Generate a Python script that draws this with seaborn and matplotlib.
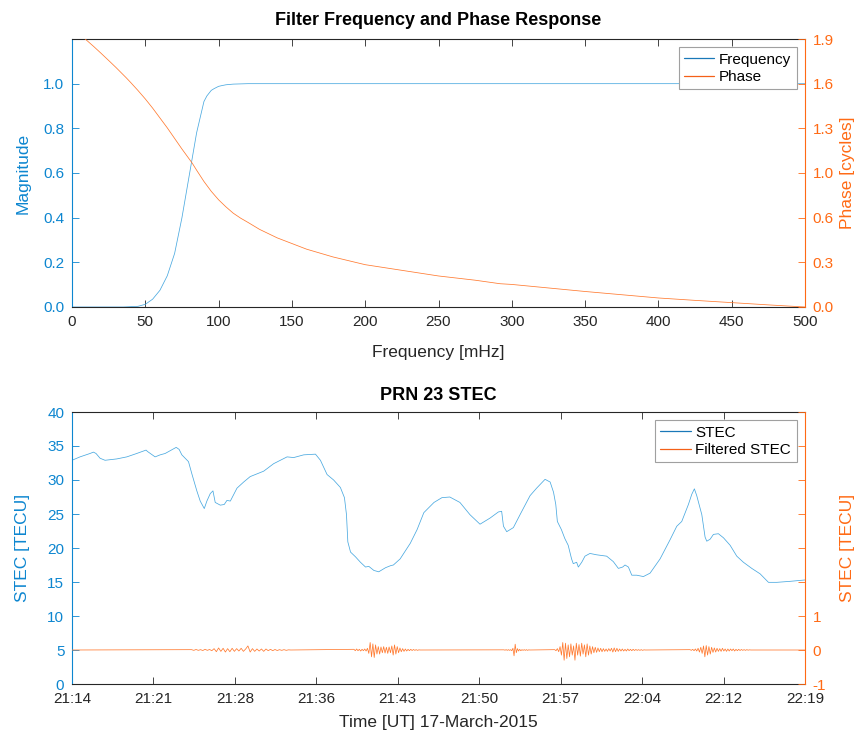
import numpy as np
import pandas as pd
import matplotlib
matplotlib.use("Agg")
import matplotlib.pyplot as plt
from matplotlib.lines import Line2D
import seaborn as sns

# ---------------- data ----------------
# Filter response (top)
mag_freq = [0, 35, 45, 50, 55, 60, 65, 70, 75, 80, 85, 90, 92, 95, 97, 100, 102, 105, 110,
            115, 120, 130, 500]
magnitude = [0, 0, 0.003, 0.012, 0.035, 0.075, 0.14, 0.24, 0.40, 0.59, 0.78, 0.92, 0.945,
             0.97, 0.978, 0.988, 0.991, 0.995, 0.998, 0.999, 1.0, 1.0, 1.0]
phase_freq = [0, 9, 15, 20, 26, 30, 37, 40, 45, 50, 55, 60, 65, 71, 75, 82, 85, 90, 95, 100,
              105, 110, 115, 120, 128, 140, 150, 160, 178, 200, 225, 250, 275, 292, 300, 325,
              350, 375, 400, 425, 450, 475, 500]
phase_cycles = [1.98, 1.9, 1.845, 1.797, 1.738, 1.698, 1.625, 1.592, 1.535, 1.475, 1.41, 1.34,
                1.27, 1.18, 1.12, 1.02, 0.97, 0.89, 0.82, 0.76, 0.71, 0.665, 0.63, 0.60, 0.55,
                0.49, 0.45, 0.41, 0.355, 0.30, 0.26, 0.22, 0.19, 0.165, 0.16, 0.135, 0.11,
                0.087, 0.064, 0.047, 0.031, 0.015, 0.0]
freq_ticks = [0, 50, 100, 150, 200, 250, 300, 350, 400, 450, 500]
mag_ticks = [0.0, 0.2, 0.4, 0.6, 0.8, 1.0]
phase_tick_labels = ["0.0", "0.3", "0.6", "1.0", "1.3", "1.6", "1.9"]

# STEC (bottom) -- time in minutes after 21:14 UT
stec_t = [0, 0.71, 1.6, 1.9, 2.13, 2.49, 2.93, 3.97, 4.86, 5.74, 6.57, 6.69, 7.37, 7.82, 8.26,
          8.7, 9.24, 9.5, 9.74, 10.33, 10.63, 11.07, 11.37, 11.73, 11.96, 12.26, 12.5, 12.7,
          13.15, 13.5, 13.74, 14.04, 14.63, 15.22, 15.8, 16.4, 17.0, 17.88, 19.07, 19.66,
          20.55, 21.59, 22.03, 22.62, 23.2, 23.8, 24.16, 24.34, 24.46, 24.7, 25.14, 25.58,
          26.03, 26.32, 26.77, 27.2, 27.8, 28.25, 28.5, 29.1, 30.0, 30.6, 31.2, 32.1, 32.8,
          33.5, 34.4, 35.29, 36.18, 37.07, 37.81, 38.1, 38.26, 38.55, 39.14, 39.73, 40.62,
          41.2, 41.95, 42.4, 42.7, 42.9, 43.04, 43.4, 43.7, 44.0, 44.3, 44.45, 44.75, 44.9,
          45.2, 45.49, 45.93, 46.52, 47.41, 48.0, 48.45, 48.83, 49.04, 49.34, 49.64, 50.08,
          50.67, 51.26, 52.15, 53.03, 53.63, 54.07, 54.66, 54.96, 55.19, 55.4, 55.85, 56.14,
          56.29, 56.59, 56.88, 57.32, 57.77, 58.36, 58.95, 59.54, 60.28, 61.02, 61.76, 62.5,
          63.7, 65.0]
stec_val = [32.9, 33.4, 33.9, 34.1, 33.9, 33.2, 32.9, 33.1, 33.4, 33.9, 34.4, 34.2, 33.4, 33.7,
            33.9, 34.3, 34.8, 34.5, 33.7, 32.7, 30.9, 28.4, 26.9, 25.8, 26.9, 28.0, 28.4, 26.7,
            26.3, 26.4, 27.0, 26.9, 28.8, 29.7, 30.5, 30.9, 31.3, 32.4, 33.4, 33.3, 33.7, 33.8,
            32.9, 30.8, 30.0, 28.9, 27.4, 24.9, 20.9, 19.4, 18.7, 17.9, 17.2, 17.3, 16.7, 16.5,
            17.1, 17.4, 17.5, 18.4, 20.7, 22.7, 25.2, 26.7, 27.4, 27.5, 26.7, 24.9, 23.5, 24.4,
            25.3, 25.4, 23.2, 22.4, 23.0, 24.9, 27.7, 28.8, 30.1, 29.7, 28.2, 26.4, 23.9, 22.7,
            21.4, 20.4, 18.4, 17.7, 17.9, 17.2, 17.9, 18.8, 19.2, 19.0, 18.8, 18.0, 17.0, 17.2,
            17.5, 17.2, 16.0, 16.0, 15.8, 16.3, 18.4, 21.2, 23.2, 23.9, 26.4, 27.9, 28.7, 27.7,
            24.9, 21.6, 21.0, 21.3, 22.0, 22.1, 21.5, 20.4, 18.8, 17.9, 17.0, 16.2, 14.95,
            14.95, 15.1, 15.3]

# Filtered STEC bursts (start minute, sample step in minutes, values in TECU)
burst_starts = [10.6, 25.0, 38.3, 42.8, 54.8]
burst_steps = [0.2, 0.12, 0.1, 0.12, 0.12]
filt_burst_a = [0.01, -0.01, 0.015, -0.01, 0.01, -0.015, 0.02, -0.01, 0.015, -0.02,
                0.04, -0.05, 0.06, -0.04, 0.05, -0.06, 0.04, -0.05, 0.05, -0.04,
                0.04, -0.03, 0.05, -0.04, 0.03, 0.12, -0.06, 0.04, -0.04, 0.03,
                -0.03, 0.03, -0.04, 0.03, -0.02, 0.02, -0.02, 0.015, -0.015, 0.01,
                -0.01, 0.01, -0.01, 0.005, 0.0]
filt_burst_b = [0.02, -0.02, 0.03, -0.02, 0.02, -0.03, 0.02, -0.02, 0.03, -0.03,
                0.05, -0.1, 0.22, -0.2, 0.18, -0.22, 0.15, -0.12, 0.1, -0.12,
                0.09, -0.08, 0.1, -0.09, 0.08, -0.1, 0.09, -0.08, 0.12, -0.15,
                0.15, -0.12, 0.1, -0.08, 0.06, -0.05, 0.04, -0.04, 0.03, -0.03,
                0.02, -0.02, 0.02, -0.015, 0.015, -0.01, 0.01, -0.01, 0.005, 0.0]
filt_burst_c = [0.005, -0.005, 0.01, -0.01, 0.01, -0.01, 0.01, -0.02, 0.05, -0.17,
                0.17, -0.08, 0.04, -0.03, 0.02, -0.02, 0.01, -0.01, 0.01, -0.01,
                0.01, -0.01, 0.005, 0.0]
filt_burst_d = [0.01, -0.02, 0.04, -0.05,
                0.1, -0.15, 0.22, -0.3, 0.2, -0.25, 0.15, -0.2, 0.18, -0.15,
                0.12, -0.3, 0.2, -0.15, 0.16, -0.18, 0.2, -0.12, 0.15, -0.2,
                0.18, -0.15, 0.12, -0.12, 0.1, -0.08, 0.08, -0.07, 0.06, -0.05,
                0.05, -0.05, 0.04, -0.04, 0.03, -0.04, 0.04, -0.03, 0.05, -0.06,
                0.06, -0.05, 0.05, -0.04, 0.03, -0.03, 0.03, -0.03, 0.02, -0.03,
                0.03, -0.02, 0.02, -0.02, 0.02, -0.015, 0.015, -0.01, 0.01, -0.01,
                0.01, -0.01, 0.005, 0.0]
filt_burst_e = [0.01, -0.01, 0.02, -0.02, 0.03, -0.03, 0.05, -0.06, 0.08, -0.1,
                0.12, -0.2, 0.13, -0.15, 0.1, -0.12, 0.08, -0.07, 0.06, -0.06,
                0.05, -0.04, 0.04, -0.04, 0.05, -0.03, 0.03, -0.04, 0.03, -0.03,
                0.03, -0.02, 0.03, -0.03, 0.02, -0.02, 0.02, -0.015, 0.015, -0.01,
                0.01, -0.01, 0.01, -0.005, 0.005, 0.0]
filt_bursts = [filt_burst_a, filt_burst_b, filt_burst_c, filt_burst_d, filt_burst_e]

time_ticks = [0, 65 / 9, 2 * 65 / 9, 3 * 65 / 9, 4 * 65 / 9, 5 * 65 / 9, 6 * 65 / 9,
              7 * 65 / 9, 8 * 65 / 9, 65]
time_tick_labels = ["21:14", "21:21", "21:28", "21:36", "21:43", "21:50", "21:57",
                    "22:04", "22:12", "22:19"]
stec_ticks = [0, 5, 10, 15, 20, 25, 30, 35, 40]
filt_ticks = [-1, 0, 1, 2, 3, 4, 5, 6, 7]
filt_tick_labels = ["-1", "0", "1", "", "", "", "", "", ""]

# ---------------- build frames ----------------
mag_df = pd.DataFrame({"f": mag_freq, "v": magnitude})
phase_df = pd.DataFrame({"f": phase_freq, "v": phase_cycles})
stec_df = pd.DataFrame({"t": stec_t, "v": stec_val})
ft = [0.0, 65.0]
fv = [0.0, 0.0]
for s, st, vals in zip(burst_starts, burst_steps, filt_bursts):
    ft += list(s + st * np.arange(len(vals)))
    fv += list(vals)
filt_df = pd.DataFrame({"t": ft, "v": fv}).sort_values("t")

# ---------------- style ----------------
sns.set_theme(style="white")
plt.rcParams["font.family"] = ["Liberation Sans", "DejaVu Sans"]
BLUE = "#0d86d0"
ORANGE = "#ff6a14"
BLUE_LINE = "#4aa9e0"
ORANGE_LINE = "#ff7a30"
BLUE_LEG = "#1a78b8"
ORANGE_LEG = "#f46018"
DARK = "#262626"
LW = 0.55

fig = plt.figure(figsize=(8.6, 7.37), dpi=100)
W = 860.0
H = 737.0
ax1 = fig.add_axes([72 / W, 1 - 307 / H, 733 / W, 268 / H])
ax3 = fig.add_axes([72 / W, 1 - 684 / H, 733 / W, 272 / H])


def style_pair(ax, axr):
    ax.tick_params(axis="x", direction="in", length=5, width=0.6, top=True, bottom=True,
                   colors=DARK, labelsize=11, pad=5.5)
    ax.tick_params(axis="y", direction="in", length=5, width=0.6, left=True, right=False,
                   colors=BLUE, labelsize=11, pad=5.5)
    axr.tick_params(axis="y", direction="in", length=5, width=0.6, right=True, left=False,
                    colors=ORANGE, labelsize=11, pad=5.5)
    for s in ["top", "bottom"]:
        ax.spines[s].set_color(DARK)
        ax.spines[s].set_linewidth(0.8)
    ax.spines["left"].set_color(BLUE)
    ax.spines["left"].set_linewidth(0.8)
    ax.spines["right"].set_visible(False)
    for s in ["top", "bottom", "left"]:
        axr.spines[s].set_visible(False)
    axr.spines["right"].set_color(ORANGE)
    axr.spines["right"].set_linewidth(0.8)


def add_legend(axr, labels):
    handles = [Line2D([], [], color=BLUE_LEG, lw=0.9), Line2D([], [], color=ORANGE_LEG, lw=0.9)]
    leg = axr.legend(handles, labels, loc="upper right", fontsize=11, frameon=True,
                     fancybox=False, framealpha=1, edgecolor="#a0a0a0", borderaxespad=0.55,
                     borderpad=0.35, handlelength=2.0, handletextpad=0.3, labelspacing=0.22)
    leg.get_frame().set_linewidth(0.8)
    for t in leg.get_texts():
        t.set_color("black")


# ---- top: filter response ----
ax2 = ax1.twinx()
sns.lineplot(data=mag_df, x="f", y="v", ax=ax1, color=BLUE_LINE, linewidth=LW, sort=False,
             estimator=None, legend=False)
sns.lineplot(data=phase_df, x="f", y="v", ax=ax2, color=ORANGE_LINE, linewidth=LW, sort=False,
             estimator=None, legend=False)
ax1.set_xlim(0, 500)
ax1.set_ylim(0, 1.2)
ax2.set_ylim(0, 1.9)
ax1.set_xticks(freq_ticks)
ax1.set_xticklabels([str(v) for v in freq_ticks])
ax1.set_yticks(mag_ticks)
ax1.set_yticklabels([f"{v:.1f}" for v in mag_ticks])
ax2.set_yticks(np.linspace(0, 1.9, 7))
ax2.set_yticklabels(phase_tick_labels)
style_pair(ax1, ax2)
ax1.set_title("Filter Frequency and Phase Response", fontsize=13, fontweight="bold",
              color="black", pad=10)
ax1.set_xlabel("Frequency [mHz]", fontsize=12.5, color=DARK)
ax1.set_ylabel("Magnitude", fontsize=12.5, color=BLUE)
ax2.set_ylabel("Phase [cycles]", fontsize=12.5, color=ORANGE)
ax1.xaxis.set_label_coords(0.5, -0.14)
ax1.yaxis.set_label_coords(-0.057, 0.5)
ax2.yaxis.set_label_coords(1.048, 0.5)
add_legend(ax2, ["Frequency", "Phase"])

# ---- bottom: STEC ----
ax4 = ax3.twinx()
sns.lineplot(data=stec_df, x="t", y="v", ax=ax3, color=BLUE_LINE, linewidth=LW, sort=False,
             estimator=None, legend=False)
sns.lineplot(data=filt_df, x="t", y="v", ax=ax4, color=ORANGE_LINE, linewidth=LW, sort=False,
             estimator=None, legend=False)
ax3.set_xlim(0, 65)
ax3.set_ylim(0, 40)
ax4.set_ylim(-1, 7)
ax3.set_xticks(time_ticks)
ax3.set_xticklabels(time_tick_labels)
ax3.set_yticks(stec_ticks)
ax3.set_yticklabels([str(v) for v in stec_ticks])
ax4.set_yticks(filt_ticks)
ax4.set_yticklabels(filt_tick_labels)
style_pair(ax3, ax4)
ax3.set_title("PRN 23 STEC", fontsize=13, fontweight="bold", color="black", pad=9)
ax3.set_xlabel("Time [UT] 17-March-2015", fontsize=12.5, color=DARK)
ax3.set_ylabel("STEC [TECU]", fontsize=12.5, color=BLUE)
ax4.set_ylabel("STEC [TECU]", fontsize=12.5, color=ORANGE)
ax3.xaxis.set_label_coords(0.5, -0.115)
ax3.yaxis.set_label_coords(-0.057, 0.5)
ax4.yaxis.set_label_coords(1.048, 0.5)
add_legend(ax4, ["STEC", "Filtered STEC"])

fig.savefig("out.png", dpi=100)
